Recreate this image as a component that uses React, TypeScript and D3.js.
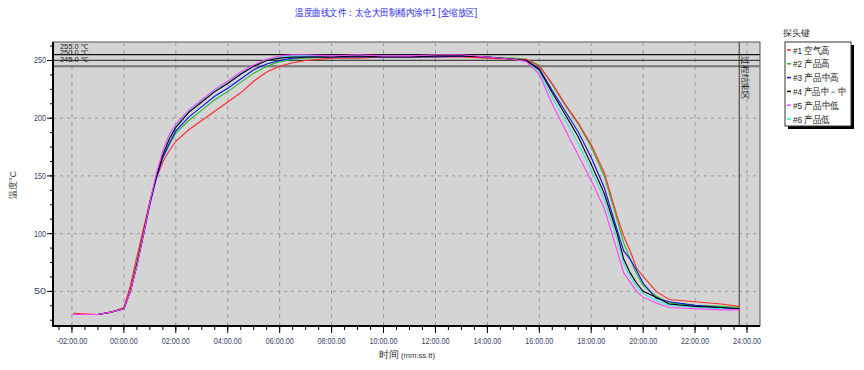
import React from "react";
import * as d3 from "d3";

const times = [-1.95, -1, -0.5, 0, 0.25, 0.5, 0.75, 1, 1.25, 1.5, 1.75, 2, 2.5, 3, 3.5, 4, 4.5, 5, 5.5, 6, 6.5, 7, 8, 9, 10, 11, 12, 13, 14, 15, 15.5, 16, 16.5, 17, 17.5, 18, 18.5, 19, 19.25, 19.5, 19.75, 20, 20.5, 21, 22, 23, 23.7];

const s1 = [31, 30, 32, 36, 55, 80, 104, 128, 148, 162, 172, 180, 190, 198, 206, 214, 222, 232, 240, 245, 248, 250, 252, 252, 253, 253, 253, 253, 252, 251, 251, 245, 230, 212, 196, 177, 153, 115, 98, 85, 70, 63, 50, 43, 41, 39, 37];
const s2 = [30, 30, 32, 35, 52, 76, 101, 127, 150, 166, 177, 187, 198, 207, 216, 223, 231, 239, 245, 249, 251, 252, 253, 253, 254, 253, 254, 254, 253, 252, 251, 246, 229, 211, 195, 175, 150, 112, 92, 78, 65, 55, 46, 40, 38, 37, 36];
const s3 = [30, 30, 32, 35, 50, 72, 98, 125, 148, 166, 178, 189, 201, 210, 219, 226, 234, 242, 247, 250, 252, 253, 253, 253, 253, 253, 253, 254, 253, 251, 250, 243, 224, 206, 188, 166, 140, 103, 85, 78, 68, 57, 44, 41, 38, 36, 35];
const s4 = [30, 30, 32, 35, 50, 73, 100, 127, 150, 168, 182, 192, 205, 214, 223, 230, 238, 245, 250, 252, 253, 253, 253, 254, 253, 253, 254, 254, 253, 251, 250, 242, 222, 203, 184, 160, 135, 100, 78, 66, 57, 50, 45, 39, 37, 36, 35];
const s5 = [30, 30, 32, 35, 50, 72, 99, 127, 152, 172, 186, 195, 207, 216, 225, 232, 240, 246, 251, 254, 255, 255, 254, 255, 254, 254, 255, 255, 253, 251, 249, 238, 212, 190, 168, 146, 122, 85, 66, 58, 50, 45, 40, 36, 35, 34, 34];
const s6 = [30, 30, 32, 35, 50, 72, 99, 126, 150, 169, 183, 193, 206, 215, 224, 231, 239, 245, 250, 253, 254, 254, 254, 254, 254, 253, 254, 254, 253, 251, 250, 240, 218, 198, 178, 155, 130, 95, 74, 63, 54, 48, 42, 38, 36, 35, 35];

const seriesNames = ["#1 空气高", "#2 产品高", "#3 产品中高", "#4 产品中－中", "#5 产品中低", "#6 产品低"];
const seriesColors = ["#ff2a2a", "#22c022", "#1010ee", "#000000", "#ff40ff", "#30e8e8"];
const seriesData = [s1, s2, s3, s4, s5, s6];
const drawOrder = [5, 1, 0, 2, 3, 4];

const yMajorTicks = [50, 100, 150, 200, 250];
const xMajorTicks = [-2, 0, 2, 4, 6, 8, 10, 12, 14, 16, 18, 20, 22, 24];
const refLines = [255, 250, 245];
const refLabels = ["255.0 ℃", "250.0 ℃", "245.0 ℃"];
const endMarker = 23.7;

const title = "温度曲线文件：太仓大田制桶内涂中1 [全缩放区]";

function fmtTime(t: number) {
  const sign = t < 0 ? "-" : "";
  const m = Math.abs(t);
  return `${sign}${String(Math.floor(m)).padStart(2, "0")}:00.00`;
}

export default function App() {
  const L = 53, R = 760, T = 42, B = 326;
  const x = d3.scaleLinear().domain([-2.73, 24.5]).range([L, R]);
  const y = d3.scaleLinear().domain([20, 266]).range([B, T]);
  const line = d3.line<[number, number]>().x((d) => x(d[0])).y((d) => y(d[1]));

  const xMinor = d3.range(-2.5, 24.01, 0.5);
  const yMinor = d3.range(25, 266, 12.5);
  const font = "'Liberation Sans', Arial, sans-serif";
  const tickColor = "#3a4266";
  const legendLens = [37, 37, 46, 53, 46, 37];

  return (
    <svg width={864} height={370} style={{ position: "absolute", left: 0, top: 0, background: "#fff" }} fontFamily={font}>
      <text x={386} y={16} fontSize={10} fill="#2828e6" textAnchor="middle" textLength={182} lengthAdjust="spacingAndGlyphs">{title}</text>
      <rect x={L} y={T} width={R - L} height={B - T} fill="#d4d4d4" stroke="#555" strokeWidth={1} />
      {xMajorTicks.map((t) => (
        <line key={"gx" + t} x1={x(t)} x2={x(t)} y1={T} y2={B} stroke="#9a9a9a" strokeDasharray="4,4" />
      ))}
      {yMajorTicks.map((v) => (
        <line key={"gy" + v} x1={L} x2={R} y1={y(v)} y2={y(v)} stroke="#9a9a9a" strokeDasharray="3,4" />
      ))}
      {refLines.map((v, i) => (
        <line key={"r" + v} x1={L} x2={R} y1={y(v)} y2={y(v)} stroke={i === 0 ? "#111" : i === 1 ? "#444" : "#777"} strokeWidth={i === 2 ? 2 : 1.3} />
      ))}
      {refLabels.map((s, i) => (
        <text key={"rl" + i} x={60} y={[48.5, 55, 61.5][i]} fontSize={7} fill="#222" textLength={28} lengthAdjust="spacingAndGlyphs">{s}</text>
      ))}
      <line x1={x(endMarker)} x2={x(endMarker)} y1={T} y2={B} stroke="#333" strokeWidth={1} />
      <text transform={`translate(${x(endMarker) + 3},${56}) rotate(90)`} fontSize={9} fill="#222" textLength={44} lengthAdjust="spacingAndGlyphs">过程结束区</text>
      {drawOrder.map((i) => (
        <path key={"s" + i} d={line(times.map((t, k) => [t, seriesData[i][k]]) as [number, number][]) || ""} fill="none" stroke={seriesColors[i]} strokeWidth={1.1} />
      ))}
      <line x1={L} x2={L} y1={T} y2={B + 1} stroke="#000" strokeWidth={2} />
      <line x1={L - 1} x2={R} y1={B} y2={B} stroke="#000" strokeWidth={2} />
      {yMinor.map((v) => (
        <line key={"ym" + v} x1={L - 3} x2={L} y1={y(v)} y2={y(v)} stroke="#000" />
      ))}
      {yMajorTicks.map((v) => (
        <g key={"yt" + v}>
          <line x1={L - 6} x2={L} y1={y(v)} y2={y(v)} stroke="#000" />
          <text x={L - 7} y={y(v) + 3} fontSize={9} fill={tickColor} textAnchor="end" textLength={12} lengthAdjust="spacingAndGlyphs">{v}</text>
        </g>
      ))}
      {xMinor.map((t) => (
        <line key={"xm" + t} x1={x(t)} x2={x(t)} y1={B} y2={B + 4} stroke="#000" />
      ))}
      {xMajorTicks.map((t) => (
        <g key={"xt" + t}>
          <line x1={x(t)} x2={x(t)} y1={B} y2={B + 7} stroke="#000" />
          <text x={x(t)} y={344} fontSize={9} fill={tickColor} textAnchor="middle" textLength={t < 0 ? 31 : 28} lengthAdjust="spacingAndGlyphs">{fmtTime(t)}</text>
        </g>
      ))}
      <text transform="translate(16,185) rotate(-90)" fontSize={9} fill="#333" textAnchor="middle">温度°C</text>
      <text x={379} y={358} fontSize={10} fill="#333">时间</text>
      <text x={401} y={358} fontSize={8} fill="#333" textLength={34} lengthAdjust="spacingAndGlyphs">(mm:ss.tt)</text>
      <text x={783} y={36} fontSize={9} fill="#333">探头键</text>
      <rect x={788} y={45} width={66} height={84} fill="#000" />
      <rect x={785} y={42} width={66} height={84} fill="#fff" stroke="#333" strokeWidth={1} />
      {seriesNames.map((n, i) => (
        <g key={"lg" + i}>
          <line x1={787} x2={791} y1={50 + i * 13.8} y2={50 + i * 13.8} stroke={seriesColors[i]} strokeWidth={1.5} />
          <text x={793} y={53.5 + i * 13.8} fontSize={9.5} fill="#222" textLength={legendLens[i]} lengthAdjust="spacingAndGlyphs">{n}</text>
        </g>
      ))}
    </svg>
  );
}
